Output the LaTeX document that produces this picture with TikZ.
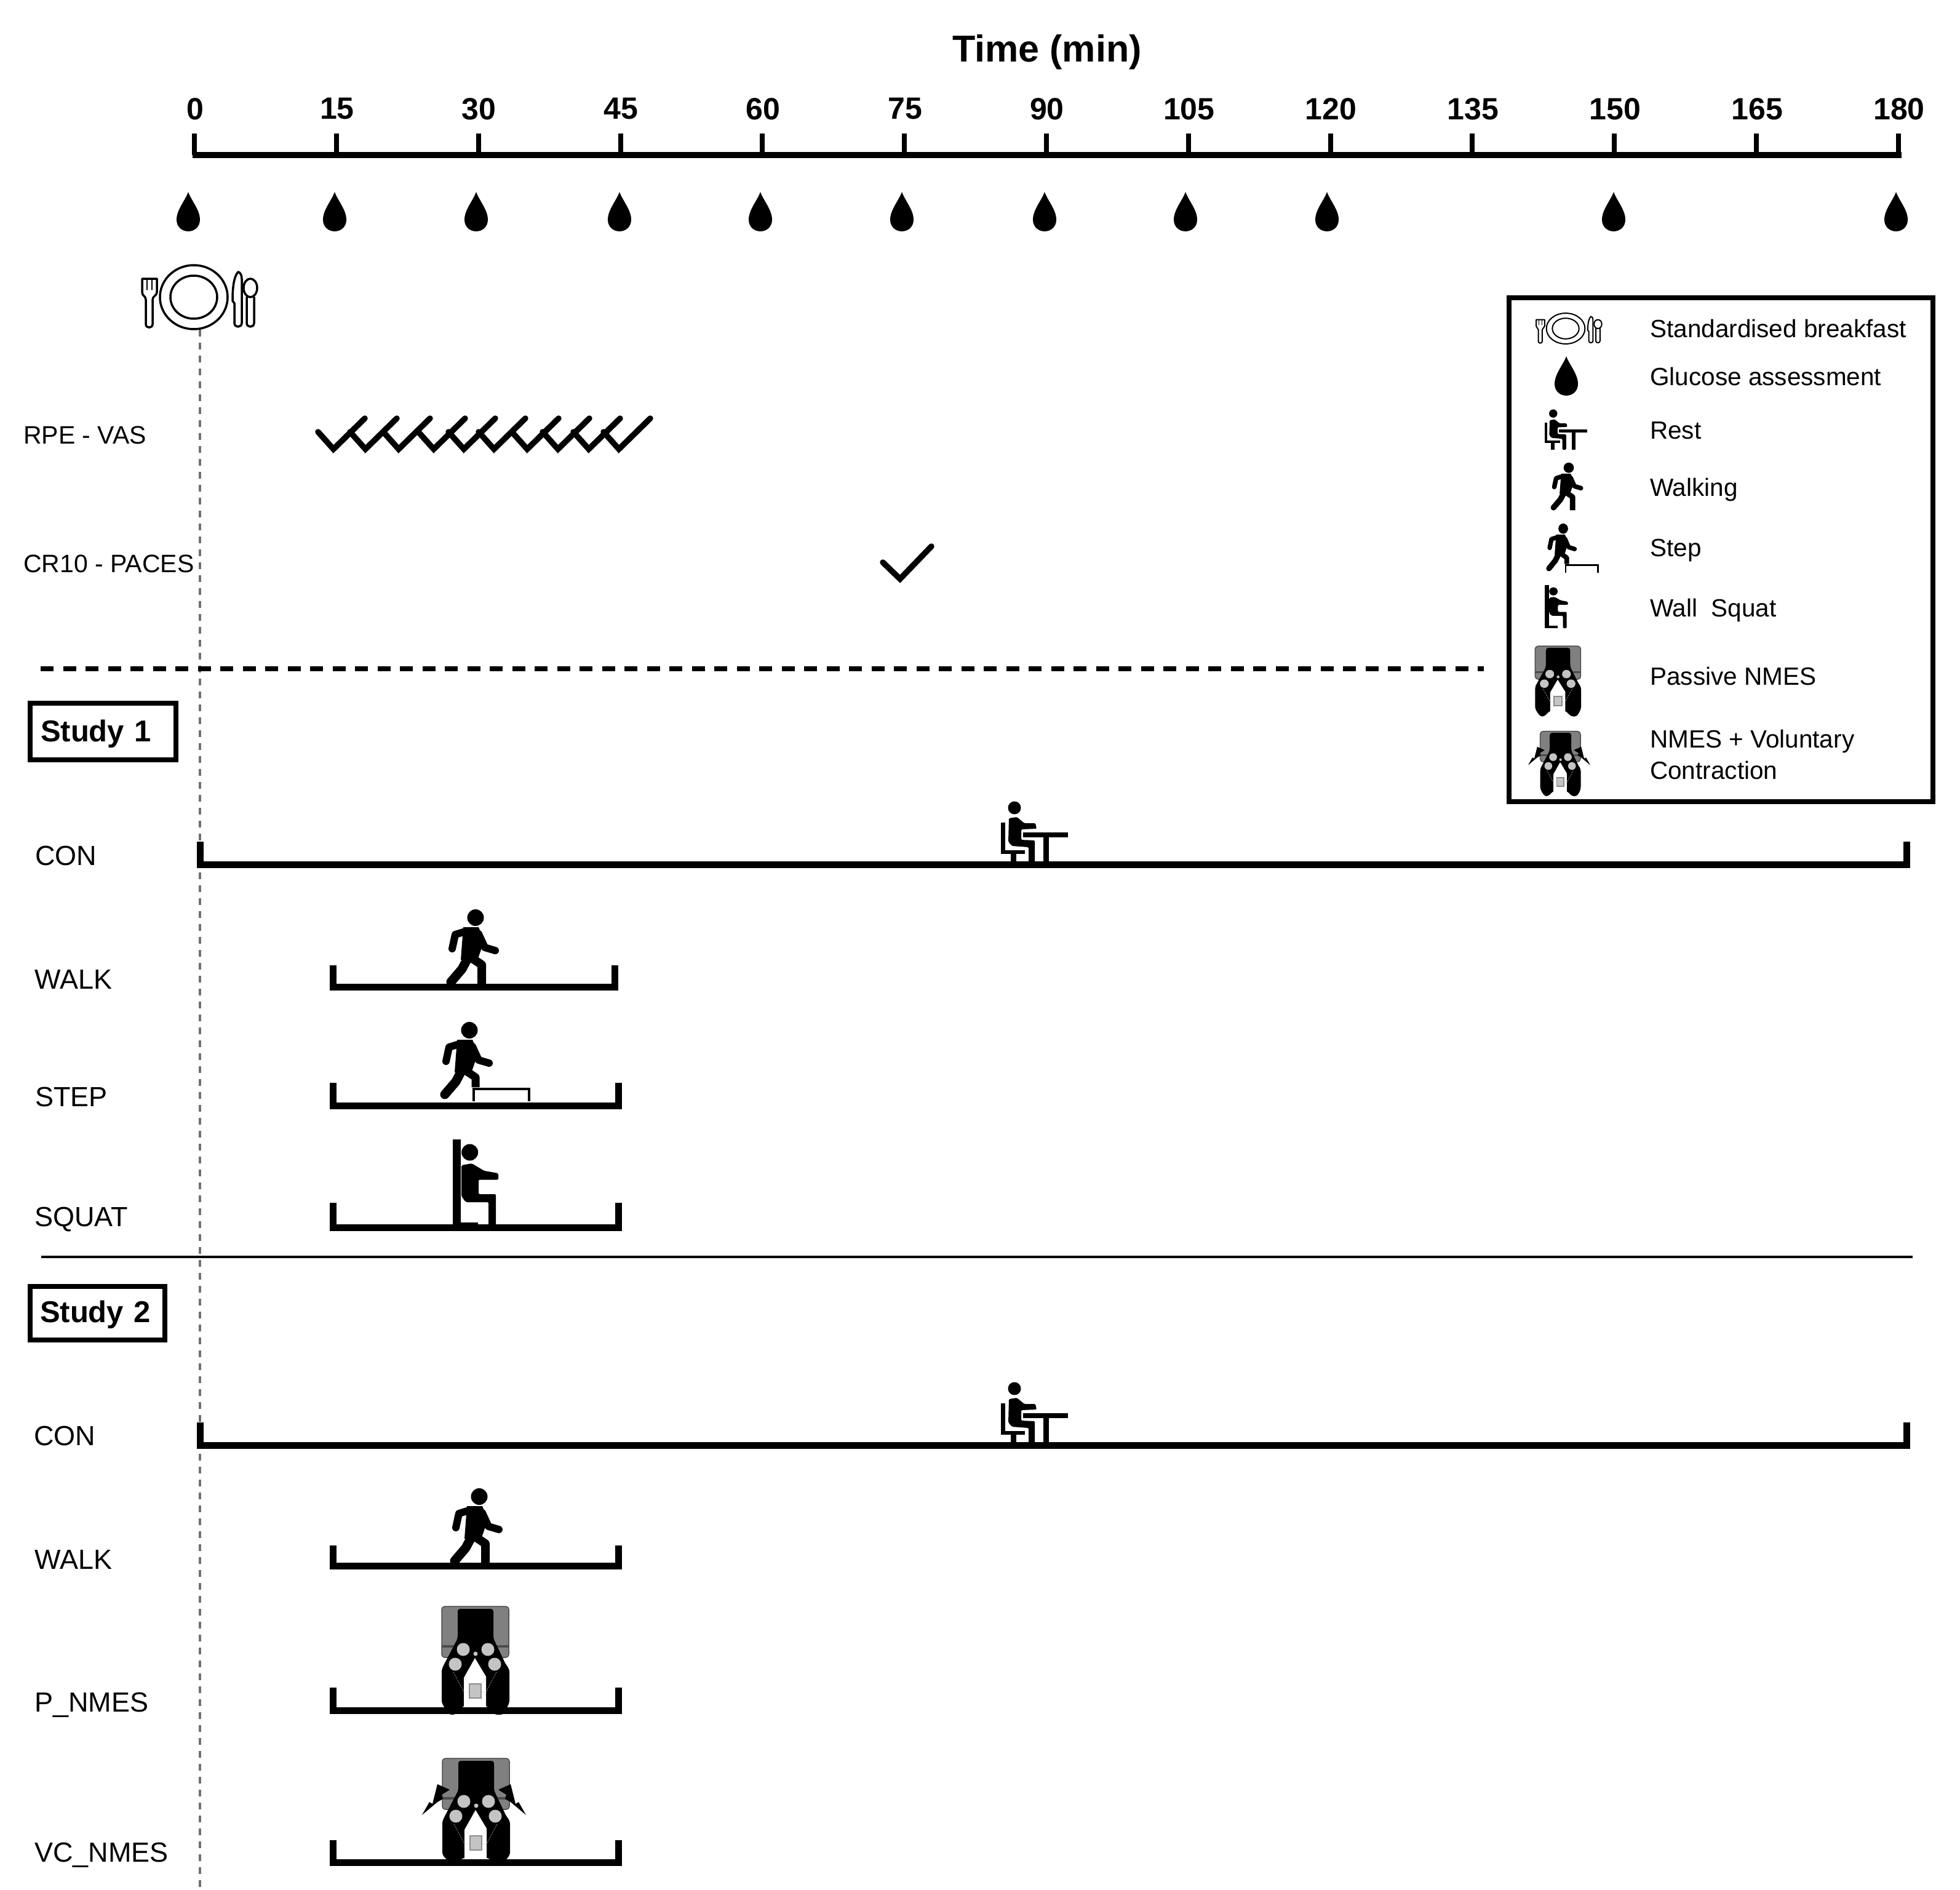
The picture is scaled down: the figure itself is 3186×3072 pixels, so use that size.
\documentclass[tikz,border=0pt]{standalone}
\usepackage{fontspec}
\setmainfont{Liberation Sans}
\definecolor{seatgray}{HTML}{808080}
\definecolor{padgray}{HTML}{C4C4C4}
\definecolor{dashgray}{HTML}{707070}
\tikzset{
  sizeA/.style={font=\fontsize{61}{66}\selectfont\bfseries},
  ticklabel/.style={font=\fontsize{50}{54}\selectfont\bfseries},
  rowlabel/.style={font=\fontsize{45}{50}\selectfont,anchor=west,inner sep=0pt,text height=34pt,text depth=0pt},
  smalllabel/.style={font=\fontsize{41}{44}\selectfont,anchor=west,inner sep=0pt,text height=29pt,text depth=0pt},
  legendlabel/.style={font=\fontsize{40.5}{44}\selectfont,anchor=west,inner sep=0pt,text height=29pt,text depth=9pt},
  studybox/.style={draw,line width=8pt,font=\fontsize{49}{54}\selectfont\bfseries,align=left,inner ysep=0pt,anchor=center},
  phasebar/.style={line width=11pt,line join=miter},
  axisline/.style={line width=10pt},
  axistick/.style={line width=8pt},
  checkline/.style={line width=9.5pt,line join=miter,line cap=round},
  guide/.style={line width=3.5pt,dashgray,dash pattern=on 11pt off 10pt},
  sepdash/.style={line width=8pt,dash pattern=on 21pt off 15.5pt},
  sepline/.style={line width=4.5pt},
  limb/.style={line join=round,line cap=round},
  outline/.style={line join=round,line cap=round},
}
\newcommand\rowbar[5]{%
  \coordinate (#1L) at (#2,#4); \coordinate (#1R) at (#3,#4);
  \coordinate (#1LT) at (#2,#5); \coordinate (#1RT) at (#3,#5);
  \draw[phasebar] (#1LT) -- (#1L) -- (#1R) -- (#1RT);}
\newcommand\dropicon[2]{%
  \fill[shift={(#1,#2)}] (0,-32) .. controls (-5,-18) and (-19,-3) .. (-19,13)
    .. controls (-19,25) and (-10,32) .. (0,32)
    .. controls (10,32) and (19,25) .. (19,13)
    .. controls (19,-3) and (5,-18) .. (0,-32) -- cycle;}
% x, y, xscale, yscale, line width
\newcommand\plateicon[5]{%
  \begin{scope}[shift={(#1,#2)},xscale=#3,yscale=#4,line width=#5pt,outline]
    \draw (0,0) ellipse [x radius=55,y radius=52];
    \draw (0,0) ellipse [x radius=38,y radius=35];
    \draw (-84,-30) -- (-84,-8) .. controls (-84,-2) and (-78,-2) .. (-78,4) -- (-78,44)
      .. controls (-78,51) and (-67,51) .. (-67,44) -- (-67,4)
      .. controls (-67,-2) and (-60,-2) .. (-60,-8) -- (-60,-30) -- cycle;
    \draw[line width=0.5*#5pt] (-76,-30) -- (-76,-12) (-68,-30) -- (-68,-12);
    \draw (72,-41) .. controls (64,-32) and (63,-10) .. (63,6) -- (66,10) -- (66,42)
      .. controls (66,50) and (78,50) .. (78,42) -- (78,-30) .. controls (78,-36) and (75,-41) .. (72,-41) -- cycle;
    \draw (92,-15) ellipse [x radius=11,y radius=15];
    \draw (86,0) -- (86,42) .. controls (86,50) and (98,50) .. (98,42) -- (98,0);
  \end{scope}}
\newcommand\personupper[1]{%
  \fill (0,-112.5) circle (13.5);
  \fill[line join=round] (-20,-97) -- (5,-97) -- (14,-75) -- (4,-46) -- (-24,-44) -- cycle;
  \draw[limb,line width=#1*12pt] (-20,-89) -- (-33,-85) -- (-38,-62);
  \draw[limb,line width=#1*12pt] (5,-86) -- (15,-64) -- (32,-59);
  \draw[limb,line width=#1*15pt] (-13,-46) -- (-22,-29) -- (-40,-8);}
\newcommand\walkicon[5]{%
  \begin{scope}[shift={(#1,#2)},xscale=#3,yscale=#4]
    \personupper{#5}
    \draw[line width=#5*14pt,line join=round] (-5,-46) -- (10,-36) -- (10,-1);
  \end{scope}}
\newcommand\stepicon[5]{%
  \begin{scope}[shift={(#1,#2)},xscale=#3,yscale=#4]
    \personupper{#5}
    \draw[line width=#5*13pt,line join=round] (-5,-46) -- (10,-36) -- (10,-20);
    \draw[line width=#5*4.5pt] (7,3) -- (7,-17) -- (97,-17) -- (97,3);
  \end{scope}}
\newcommand\squaticon[5]{%
  \begin{scope}[shift={(#1,#2)},xscale=#3,yscale=#4]
    \fill (0,-143) rectangle (13,0);
    \fill (13,-8) rectangle (41,0);
    \fill (27.7,-122) circle (13.5);
    \fill[rounded corners=2pt] (14,-101) -- (31,-104) -- (51,-92) -- (74,-88) -- (74,-77.5) -- (42,-77.5) -- (42,-54)
      -- (70,-54) -- (70,0) -- (58,0) -- (58,-41) -- (21,-41) -- (14,-51) -- cycle;
  \end{scope}}
\newcommand\resticon[4]{%
  \begin{scope}[shift={(#1,#2)},xscale=#3,yscale=#4]
    \fill (59,-92) circle (10.5);
    \fill (37,-68) rectangle (44,-17);
    \fill (37,-23) rectangle (76,-17);
    \fill (53,-17) rectangle (62,0);
    \fill[rounded corners=1.5pt] (50,-75) -- (63,-77) -- (75,-67) -- (93,-67) -- (95,-58) -- (70,-57) -- (70,-40)
      -- (92,-39) -- (92,0) -- (82,0) -- (82,-28) -- (55,-30) -- (49,-37) -- cycle;
    \fill (73,-52) rectangle (146,-44);
    \fill (106,-45) rectangle (115,0);
  \end{scope}}
% x, y, xscale, yscale, leg bottom
\newcommand\nmesicon[5]{%
  \begin{scope}[shift={(#1,#2)},xscale=#3,yscale=#4]
    \filldraw[fill=seatgray,draw=black!70,line width=1.5pt,rounded corners=5pt] (-54,-169) rectangle (55,-86);
    \fill[black!70] (-54,-106) rectangle (55,-102);
    \fill[rounded corners=4pt] (-28,-165) -- (30,-165) -- (30,-117) -- (50,-75) -- (56,-67) -- (56,-12)
      -- (46,#5) -- (32,#5) -- (18,-8) -- (-18,-8) -- (-32,#5) -- (-42,#5) -- (-54,-12) -- (-54,-67) -- (-50,-75) -- (-28,-117) -- cycle;
    \fill[white] (0,-85) -- (18,-55) -- (18,-5.5) -- (-18,-5.5) -- (-18,-53) -- cycle;
    \draw[padgray,line width=1pt,dotted] (-35,-62) -- (-18,-30) -- (-9,-30) (35,-62) -- (18,-30) -- (10,-30)
      (-18,-53) -- (-9,-43) (18,-53) -- (10,-43);
    \fill[padgray] (-19,-99) circle (10.5) (21,-99) circle (10.5) (-32,-75) circle (10.5) (32,-75) circle (10.5) (1,-92) circle (3.5);
    \filldraw[fill=padgray,draw=black!45,line width=1.5pt] (-9,-43) rectangle (10,-20);
  \end{scope}}
\newcommand\bolts[4]{%
  \begin{scope}[shift={(#1,#2)},xscale=#3,yscale=#4]
    \fill (-87,-77) -- (-75,-98) -- (-70,-95) -- (-62,-127) -- (-42,-118) -- (-55,-110) -- (-53,-103) -- (-62,-98) -- cycle;
    \fill (82,-77) -- (70,-98) -- (65,-95) -- (57,-127) -- (37,-118) -- (50,-110) -- (48,-103) -- (57,-98) -- cycle;
  \end{scope}}
\begin{document}
\begin{tikzpicture}[x=1pt,y=-1pt]
\useasboundingbox (0,0) rectangle (3186,3072);
% vertical guide
\coordinate (guideT) at (325,536);
\coordinate (guideB) at (325,3072);
\draw[guide] (guideT) -- (guideB);
% axis
\node[sizeA] (timetitle) at (1702,85) {Time (min)};
\coordinate (ax0) at (317,252);
\coordinate (ax180) at (3087,252);
\foreach \m [count=\k from 0] in {0,15,30,45,60,75,90,105,120,135,150,165,180}{
  \coordinate (tk\m) at ({316+\k*230.83},217);
  \coordinate (tb\m) at ({316+\k*230.83},252);
  \draw[axistick] (tk\m) -- (tb\m);
  \node[ticklabel] (lab\m) at ({317+\k*230.83},177) {\m};
}
\draw[axisline] ([xshift=-4pt]ax0) -- ([xshift=4pt]ax180);
% glucose drops
\foreach \x in {306,544,774,1007,1236,1466,1698,1927,2157,2623,3082}{\dropicon{\x}{344}}
% breakfast
\plateicon{315}{483}{1}{1}{3.5}
% questionnaires
\node[smalllabel] (rpe) at (38,707) {RPE - VAS};
\node[smalllabel] (cr10) at (38,916) {CR10 - PACES};
\foreach \b in {542,594,648,705,754,803,857,907,957,1006}{
  \draw[checkline] (\b-25,702) -- (\b,730) -- (\b+51,680);
}
\draw[checkline] (1435,914) -- (1463,941) -- (1514,888);
% separators
\coordinate (dashL) at (66,1087); \coordinate (dashR) at (2412,1087);
\draw[sepdash] (dashL) -- (dashR);
\coordinate (lineL) at (67,2043); \coordinate (lineR) at (3109,2043);
\draw[sepline] (lineL) -- (lineR);
% study boxes
\node[studybox,minimum width=237pt,minimum height=92pt,text width=203pt,inner xsep=17pt] (study1) at (167.5,1189) {\rule{0pt}{43pt}Study 1};
\node[studybox,minimum width=219pt,minimum height=87pt,text width=187pt,inner xsep=16pt] (study2) at (158.5,2134.5) {\rule{0pt}{41pt}Study 2};
% row labels
\node[rowlabel] (c1) at (57,1389) {CON};
\node[rowlabel] (w1) at (56,1590) {WALK};
\node[rowlabel] (st) at (57,1781) {STEP};
\node[rowlabel] (sq) at (56,1976) {SQUAT};
\node[rowlabel] (c2) at (55,2332) {CON};
\node[rowlabel] (w2) at (56,2533) {WALK};
\node[rowlabel] (pn) at (56,2765) {P\_NMES};
\node[rowlabel] (vn) at (56,3009) {VC\_NMES};
% timelines
\rowbar{aa}{325.5}{3099.5}{1405}{1368}
\rowbar{ab}{541}{999}{1604}{1569}
\rowbar{ac}{541}{1005}{1797}{1760}
\rowbar{ad}{541}{1005}{1995}{1955}
\rowbar{ae}{325.5}{3099.5}{2349}{2312}
\rowbar{af}{541}{1005}{2545}{2512}
\rowbar{ag}{541}{1005}{2780}{2743}
\rowbar{ah}{541}{1005}{3027}{2991}
% activity icons
\resticon{1590}{1405}{1}{1}
\walkicon{773}{1604}{1}{1}{1}
\stepicon{763}{1787}{1}{1}{1}
\squaticon{736}{1995}{1}{1}{1}
\resticon{1590}{2349}{1}{1}
\walkicon{779}{2545}{1}{1}{1}
\nmesicon{772}{2780}{1}{1}{7}
\nmesicon{773}{3027}{1}{1}{0}
\bolts{773}{3027}{1}{1}
% legend
\node[draw,line width=8pt,minimum width=689pt,minimum height=819pt,inner sep=0pt] (legend) at (2797.5,893.5) {};
\plateicon{2545}{534}{0.57}{0.48}{2}
\dropicon{2546}{611}
\resticon{2487}{731}{0.64}{0.64}
\walkicon{2550}{830}{0.62}{0.62}{0.62}
\stepicon{2541}{929}{0.58}{0.62}{0.6}
\squaticon{2511}{1021}{0.51}{0.49}{0.5}
\nmesicon{2532}{1160}{0.68}{0.65}{7}
\nmesicon{2536}{1290}{0.6}{0.6}{7}
\bolts{2536}{1290}{0.6}{0.6}
\node[legendlabel] (l1) at (2682,538) {Standardised breakfast};
\node[legendlabel] (l2) at (2682,616) {Glucose assessment};
\node[legendlabel] (l3) at (2682,703) {Rest};
\node[legendlabel] (l4) at (2682,796) {Walking};
\node[legendlabel] (l5) at (2682,894) {Step};
\node[legendlabel] (l6) at (2682,992) {Wall\ \ Squat};
\node[legendlabel] (l7) at (2682,1103) {Passive NMES};
\node[legendlabel] (l8) at (2682,1205) {NMES + Voluntary};
\node[legendlabel] (l9) at (2682,1256) {Contraction};
\end{tikzpicture}
\end{document}
